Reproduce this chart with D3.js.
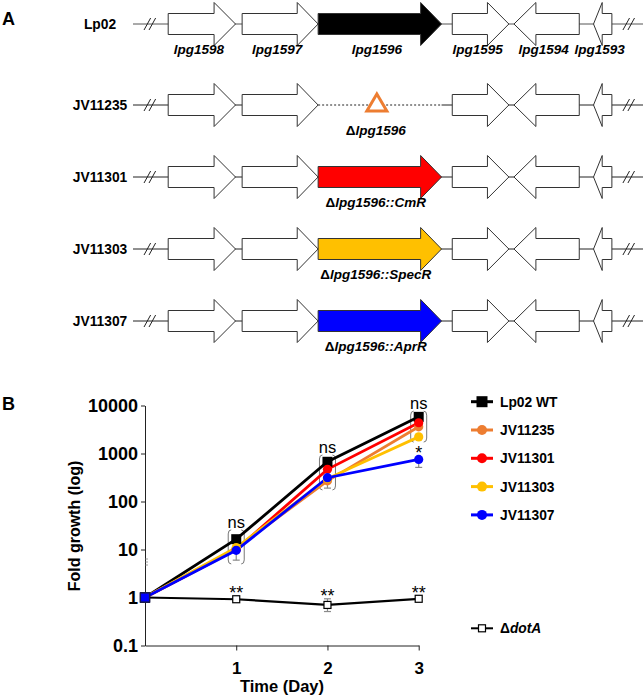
<!DOCTYPE html>
<html>
<head>
<meta charset="utf-8">
<script src="https://cdn.jsdelivr.net/npm/d3@7"></script>
<style>
  body { margin: 0; background: #fff; }
  svg { display: block; font-family: "Liberation Sans", Arial, Helvetica, sans-serif; }
</style>
</head>
<body>
<script>
// ---- panel A data (gene map, arbitrary locus units 0..1000) ----
var strainRows = ["Lp02", "JV11235", "JV11301", "JV11303", "JV11307"];
var insertFill = ["#000000", null, "#FF0000", "#FFC000", "#0000FF"];
var mutantLabels = [null, "lpg1596", "lpg1596::CmR", "lpg1596::SpecR", "lpg1596::AprR"];
var geneNames  = ["lpg1598", "lpg1597", "lpg1596", "lpg1595", "lpg1594", "lpg1593"];
var geneStart  = [69, 214, 363, 626, 747, 903];
var geneEnd    = [201, 363, 605, 737, 875, 939];
var geneHead   = [42, 41, 41, 42, 43, 17];
var geneStrand = [1, 1, 1, 1, -1, -1];
var breakMarks = [33, 972];

// ---- panel B data ----
var days = [0, 1, 2, 3];
var strains = ["Lp02 WT", "JV11235", "JV11301", "JV11303", "JV11307"];
var strainColors = ["#000000", "#ED7D31", "#FF0000", "#FFC000", "#0000FF"];
var lp02Growth    = [1, 16.4, 672, 5800];
var jv11235Growth = [1, 10.5, 270, 3600];
var jv11301Growth = [1, 10, 468, 4370];
var jv11303Growth = [1, 11, 300, 2220];
var jv11307Growth = [1, 9.6, 313, 754];
var dotAGrowth    = [1, 0.92, 0.70, 0.94];
var growth = [lp02Growth, jv11235Growth, jv11301Growth, jv11303Growth, jv11307Growth];

// error bars (gray) : day, low, high
var errDay  = [1, 2, 3, 1, 2];
var errLow  = [6, 190, 513, 0.86, 0.51];
var errHigh = [16, 300, 800, 0.98, 0.94];

// ns brackets
var bracketDays = [1, 2, 3];
var bracketLow  = [5, 174, 1730];
var bracketHigh = [25.6, 930, 7640];
var bracketText = ["ns", "ns", "ns"];

var W = 643, H = 698;
var svg = d3.select("body").append("svg").attr("width", W).attr("height", H);

// ================= panel A =================
svg.append("text").attr("x", 2).attr("y", 25)
   .style("font-size", "18px").style("font-weight", "bold").text("A");

var xg = d3.scaleLinear().domain([0, 1000]).range([133, 643]);
var rowY = function(i) { return i === 0 ? 24 : 105 + (i - 1) * 72; };

function genePath(j, y) {
  var bh = 10.5, hh = 21.5;
  var a = xg(geneStart[j]), b = xg(geneEnd[j]);
  if (geneStrand[j] > 0) {
    var h = xg(geneEnd[j] - geneHead[j]);
    return "M" + a + "," + (y - bh) + "L" + h + "," + (y - bh) + "L" + h + "," + (y - hh) +
      "L" + b + "," + y + "L" + h + "," + (y + hh) + "L" + h + "," + (y + bh) + "L" + a + "," + (y + bh) + "Z";
  }
  var h2 = xg(geneStart[j] + geneHead[j]);
  return "M" + b + "," + (y - bh) + "L" + h2 + "," + (y - bh) + "L" + h2 + "," + (y - hh) +
    "L" + a + "," + y + "L" + h2 + "," + (y + hh) + "L" + h2 + "," + (y + bh) + "L" + b + "," + (y + bh) + "Z";
}

strainRows.forEach(function(name, i) {
  var y = rowY(i);
  var g = svg.append("g");

  g.append("text").attr("x", 100).attr("y", y + 4.8)
    .attr("text-anchor", "middle")
    .style("font-size", "13.8px").style("font-weight", "bold").text(name);

  // backbone
  if (insertFill[i] === null) {
    g.append("line").attr("x1", xg(0)).attr("x2", xg(geneStart[2])).attr("y1", y).attr("y2", y)
      .attr("stroke", "#222");
    g.append("line").attr("x1", xg(geneStart[2])).attr("x2", xg(geneEnd[2])).attr("y1", y).attr("y2", y)
      .attr("stroke", "#222").attr("stroke-dasharray", "2,2");
    g.append("line").attr("x1", xg(geneEnd[2])).attr("x2", xg(1000)).attr("y1", y).attr("y2", y)
      .attr("stroke", "#222");
  } else {
    g.append("line").attr("x1", xg(0)).attr("x2", xg(1000)).attr("y1", y).attr("y2", y)
      .attr("stroke", i === 0 ? "#555" : "#222");
  }

  // break marks //
  breakMarks.forEach(function(m) {
    [-2.5, 2.5].forEach(function(o) {
      g.append("line")
        .attr("x1", xg(m) + o - 3.3).attr("y1", y + 6)
        .attr("x2", xg(m) + o + 3.3).attr("y2", y - 6)
        .attr("stroke", "#222");
    });
  });

  geneNames.forEach(function(gn, j) {
    if (j === 2 && insertFill[i] === null) return;
    g.append("path").attr("d", genePath(j, y))
      .attr("fill", j === 2 ? insertFill[i] : "#fff")
      .attr("stroke", "#333").attr("stroke-width", 1);
  });

  if (i === 0) {
    geneNames.forEach(function(gn, j) {
      var cx = (xg(geneStart[j]) + xg(geneEnd[j])) / 2;
      var t = g.append("text").attr("y", y + 29.5)
        .style("font-size", "13.5px").style("font-weight", "bold").style("font-style", "italic")
        .text(gn);
      if (cx + 26 > W - 4) t.attr("x", W - 6).attr("text-anchor", "end");
      else t.attr("x", cx - 3).attr("text-anchor", "middle");
    });
  } else {
    var cx2 = (xg(geneStart[2]) + xg(geneEnd[2])) / 2 - 4;
    var lt = g.append("text").attr("x", cx2).attr("y", y + 30).attr("text-anchor", "middle")
      .style("font-size", "13.5px").style("font-weight", "bold");
    lt.append("tspan").text("\u0394");
    lt.append("tspan").style("font-style", "italic").text(mutantLabels[i]);
    if (insertFill[i] === null) {
      // deletion marker triangle
      var tx = cx2 + 1;
      g.append("path")
        .attr("d", "M" + tx + "," + (y - 11) + "L" + (tx - 10) + "," + (y + 6) + "L" + (tx + 10) + "," + (y + 6) + "Z")
        .attr("fill", "#fff").attr("stroke", "#ED7D31").attr("stroke-width", 3)
        .attr("stroke-linejoin", "miter");
    }
  }
});

// ================= panel B =================
svg.append("text").attr("x", 2).attr("y", 410)
   .style("font-size", "18px").style("font-weight", "bold").text("B");

var x = d3.scaleLinear().domain([0, 3]).range([145, 418.7]);
var y = d3.scaleLog().domain([0.1, 10000]).range([645.5, 405.5]);

var yAxis = svg.append("g").attr("transform", "translate(145,0)")
  .call(d3.axisLeft(y).tickValues([0.1, 1, 10, 100, 1000, 10000])
        .tickFormat(function(d) { return String(d); })
        .tickSizeInner(4).tickSizeOuter(0).tickPadding(3));
yAxis.selectAll("text").style("font-size", "18px").style("font-weight", "bold").attr("fill", "#000");
yAxis.selectAll("line,path").attr("stroke", "#222");

var xAxis = svg.append("g").attr("transform", "translate(0,645.5)")
  .call(d3.axisBottom(x).tickValues([1, 2, 3]).tickFormat(d3.format("d"))
        .tickSizeInner(5).tickSizeOuter(0).tickPadding(11));
xAxis.selectAll("text").style("font-size", "17px").style("font-weight", "bold").attr("fill", "#000");
xAxis.selectAll("line,path").attr("stroke", "#222");

svg.append("text").attr("transform", "translate(80,526) rotate(-90)")
  .attr("text-anchor", "middle").style("font-size", "16px").style("font-weight", "bold")
  .text("Fold growth (log)");
svg.append("text").attr("x", 282).attr("y", 692).attr("text-anchor", "middle")
  .style("font-size", "16.5px").style("font-weight", "bold").text("Time (Day)");

// brackets
bracketDays.forEach(function(d, k) {
  var cx = x(d), t = y(bracketHigh[k]), b = y(bracketLow[k]);
  [-8, 8].forEach(function(o) {
    var xe = cx + o, s = o < 0 ? 3 : -3;
    svg.append("path")
      .attr("d", "M" + (xe + s) + "," + t + "Q" + xe + "," + t + " " + xe + "," + (t + 4) +
                 "L" + xe + "," + (b - 4) + "Q" + xe + "," + b + " " + (xe + s) + "," + b)
      .attr("fill", "none").attr("stroke", "#777").attr("stroke-width", 1);
  });
  svg.append("text").attr("x", cx).attr("y", t - 2).attr("text-anchor", "middle")
    .style("font-size", "16.5px").text(bracketText[k]);
});

// small residual caps at day 0
[559, 562, 565].forEach(function(yy) {
  svg.append("line").attr("x1", x(0) + 0.5).attr("x2", x(0) + 3).attr("y1", yy).attr("y2", yy)
    .attr("stroke", "#999").attr("stroke-width", 1);
});

// error bars
errDay.forEach(function(d, k) {
  var cx = x(d);
  svg.append("line").attr("x1", cx).attr("x2", cx).attr("y1", y(errLow[k])).attr("y2", y(errHigh[k]))
    .attr("stroke", "#8a8a8a").attr("stroke-width", 1.2);
  [errLow[k], errHigh[k]].forEach(function(v) {
    svg.append("line").attr("x1", cx - 3.5).attr("x2", cx + 3.5).attr("y1", y(v)).attr("y2", y(v))
      .attr("stroke", "#8a8a8a").attr("stroke-width", 1.2);
  });
});

var line = d3.line().x(function(d, i) { return x(days[i]); }).y(function(d) { return y(d); });

// dotA (drawn first so day-0 marker of growth series stays on top)
svg.append("path").datum(dotAGrowth).attr("d", line)
  .attr("fill", "none").attr("stroke", "#000").attr("stroke-width", 2.2);
svg.selectAll(".dota").data(dotAGrowth).enter().append("rect")
  .attr("x", function(d, i) { return x(days[i]) - 3.5; })
  .attr("y", function(d) { return y(d) - 3.5; })
  .attr("width", 7).attr("height", 7)
  .attr("fill", "#fff").attr("stroke", "#000").attr("stroke-width", 1.2);

growth.forEach(function(vals, s) {
  svg.append("path").datum(vals).attr("d", line)
    .attr("fill", "none").attr("stroke", strainColors[s]).attr("stroke-width", 2.8);
});
growth.forEach(function(vals, s) {
  vals.forEach(function(v, i) {
    if (i === 0) {
      svg.append("rect").attr("x", x(days[i]) - 4.5).attr("y", y(v) - 4.5)
        .attr("width", 9).attr("height", 9)
        .attr("fill", strainColors[s]).attr("stroke", "#1a1a4a").attr("stroke-width", 1.2);
    } else if (s === 0) {
      svg.append("rect").attr("x", x(days[i]) - 5).attr("y", y(v) - 5)
        .attr("width", 10).attr("height", 10).attr("fill", "#000");
    } else {
      svg.append("circle").attr("cx", x(days[i])).attr("cy", y(v)).attr("r", 4.6)
        .attr("fill", strainColors[s]);
    }
  });
});

// significance stars
days.slice(1).forEach(function(d) {
  var v = dotAGrowth[d];
  svg.append("text").attr("x", x(d)).attr("y", y(v) - (d === 2 ? 13 : 10) + 10)
    .attr("text-anchor", "middle").style("font-size", "18px").text("**");
});
svg.append("text").attr("x", x(3)).attr("y", y(jv11307Growth[3]))
  .attr("text-anchor", "middle").style("font-size", "18px").text("*");

// legend
var legY = function(i) { return 401.7 + i * 28.3; };
strains.forEach(function(name, s) {
  var ly = legY(s);
  svg.append("line").attr("x1", 471).attr("x2", 493).attr("y1", ly).attr("y2", ly)
    .attr("stroke", strainColors[s]).attr("stroke-width", 3);
  if (s === 0) {
    svg.append("rect").attr("x", 482 - 5.5).attr("y", ly - 5.5).attr("width", 11).attr("height", 11)
      .attr("fill", "#000");
  } else {
    svg.append("circle").attr("cx", 482).attr("cy", ly).attr("r", 5).attr("fill", strainColors[s]);
  }
  svg.append("text").attr("x", 500).attr("y", ly + 5)
    .style("font-size", "13.8px").style("font-weight", "bold").text(name);
});
var dy = 628.3;
svg.append("line").attr("x1", 471).attr("x2", 493).attr("y1", dy).attr("y2", dy)
  .attr("stroke", "#000").attr("stroke-width", 2);
svg.append("rect").attr("x", 478.5).attr("y", dy - 3.5).attr("width", 7).attr("height", 7)
  .attr("fill", "#fff").attr("stroke", "#000").attr("stroke-width", 1.2);
var dt = svg.append("text").attr("x", 500).attr("y", dy + 5)
  .style("font-size", "13.8px").style("font-weight", "bold");
dt.append("tspan").text("\u0394");
dt.append("tspan").style("font-style", "italic").text("dotA");
</script>
</body>
</html>
